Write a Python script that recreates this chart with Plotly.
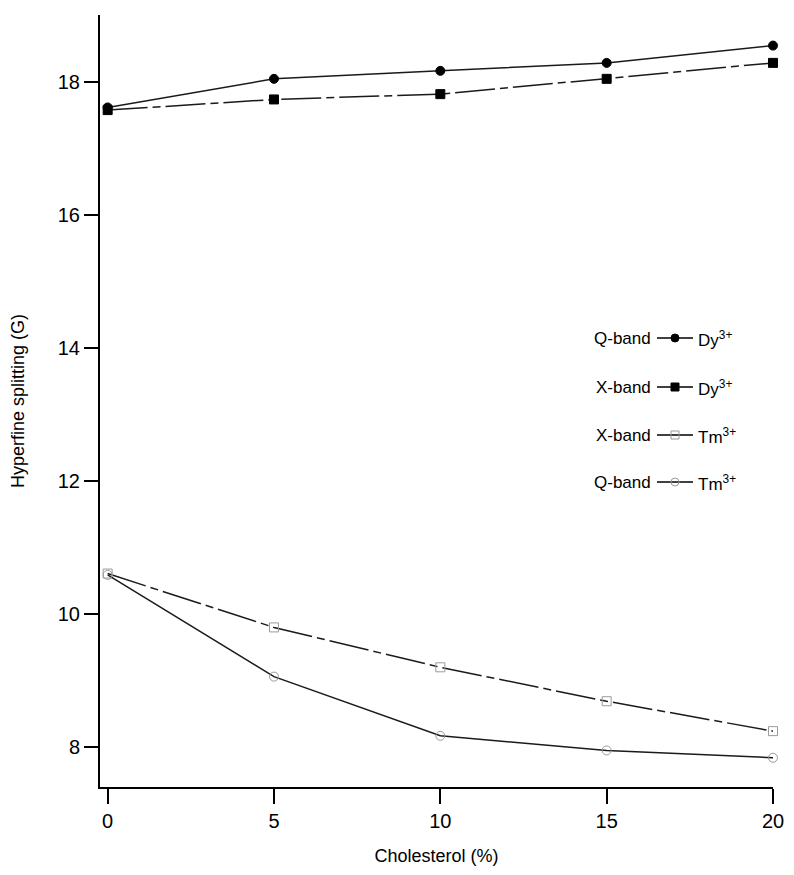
import plotly.graph_objects as go

cholesterol = [0, 5, 10, 15, 20]
q_band_dy = [17.62, 18.05, 18.17, 18.29, 18.55]
x_band_dy = [17.58, 17.74, 17.82, 18.05, 18.29]
x_band_tm = [10.61, 9.80, 9.20, 8.69, 8.24]
q_band_tm = [10.59, 9.06, 8.17, 7.95, 7.84]

x_ticks = [0, 5, 10, 15, 20]
y_ticks = [8, 10, 12, 14, 16, 18]

legend_band = ["Q-band", "X-band", "X-band", "Q-band"]
legend_ion = ["Dy", "Dy", "Tm", "Tm"]
legend_charge = ["3+", "3+", "3+", "3+"]

FONT = "Liberation Sans, Arial, sans-serif"
DASH = "40px,5px,8px,5px"

styles = [
    dict(dash="solid", symbol="circle", mcolor="#000", mline="#000"),
    dict(dash=DASH, symbol="square", mcolor="#000", mline="#000"),
    dict(dash=DASH, symbol="square-open", mcolor="#9a9a9a", mline="#9a9a9a"),
    dict(dash="solid", symbol="circle-open", mcolor="#9a9a9a", mline="#9a9a9a"),
]
series = [q_band_dy, x_band_dy, x_band_tm, q_band_tm]

fig = go.Figure()
for vals, st in zip(series, styles):
    fig.add_trace(go.Scatter(
        x=cholesterol, y=vals, mode="lines+markers",
        line=dict(color="#1a1a1a", width=1.5, dash=st["dash"]),
        marker=dict(symbol=st["symbol"], size=9, color=st["mcolor"],
                    line=dict(color=st["mline"], width=1)),
        cliponaxis=False, showlegend=False, hoverinfo="skip"))

# page offset (body margin) of 8px is compensated in the margins
OFF = 8
FIG_W, FIG_H = 786, 867
W0, W1, H0, H1 = 100, 773, 15, 787  # plot area in page pixels
def fx(px):
    return (px - W0) / (W1 - W0)
def fy(py):
    return (H1 - py) / (H1 - H0)

row_y = [338, 387, 435, 482]
for i, st in enumerate(styles):
    yy = fy(row_y[i])
    fig.add_trace(go.Scatter(
        x=[fx(657), fx(693)], y=[yy, yy], mode="lines",
        line=dict(color="#000", width=1.3),
        xaxis="x2", yaxis="y2", showlegend=False, hoverinfo="skip"))
    fig.add_trace(go.Scatter(
        x=[fx(675)], y=[yy], mode="markers",
        marker=dict(symbol=st["symbol"], size=8, color=st["mcolor"],
                    line=dict(color=st["mline"], width=1)),
        xaxis="x2", yaxis="y2", showlegend=False, hoverinfo="skip"))
    fig.add_annotation(x=fx(653), y=yy, xref="x2", yref="y2",
                       text=legend_band[i], showarrow=False, xanchor="right",
                       font=dict(family=FONT, size=17, color="#000"))
    fig.add_annotation(x=fx(696), y=yy, xref="x2", yref="y2", yshift=-1,
                       text=f"{legend_ion[i]}<sup>{legend_charge[i]}</sup>",
                       showarrow=False, xanchor="left",
                       font=dict(family=FONT, size=17, color="#000"))

fig.update_layout(
    width=FIG_W, height=FIG_H,
    margin=dict(l=W0 - OFF, r=FIG_W - (W1 - OFF), t=H0 - OFF, b=FIG_H - (H1 - OFF), pad=0),
    plot_bgcolor="white", paper_bgcolor="white",
    font=dict(family=FONT, color="#000"),
    xaxis=dict(range=[-0.23, 20], tickvals=x_ticks, ticks="outside", ticklen=15,
               tickwidth=1.5, tickcolor="#000", showline=True, linewidth=2,
               linecolor="#000", showgrid=False, zeroline=False, automargin=False,
               tickfont=dict(family=FONT, size=20),
               title=dict(text="Cholesterol (%)", font=dict(family=FONT, size=18),
                          standoff=18)),
    yaxis=dict(range=[7.40, 19.01], tickvals=y_ticks, ticks="outside", ticklen=14,
               tickwidth=2, tickcolor="#000", showline=True, linewidth=2,
               linecolor="#000", showgrid=False, zeroline=False, automargin=False,
               tickfont=dict(family=FONT, size=20),
               title=dict(text="Hyperfine splitting (G)", font=dict(family=FONT, size=18),
                          standoff=28)),
    xaxis2=dict(range=[0, 1], overlaying="x", visible=False, anchor="y2"),
    yaxis2=dict(range=[0, 1], overlaying="y", visible=False, anchor="x2"),
)

fig.write_html("out.html")
